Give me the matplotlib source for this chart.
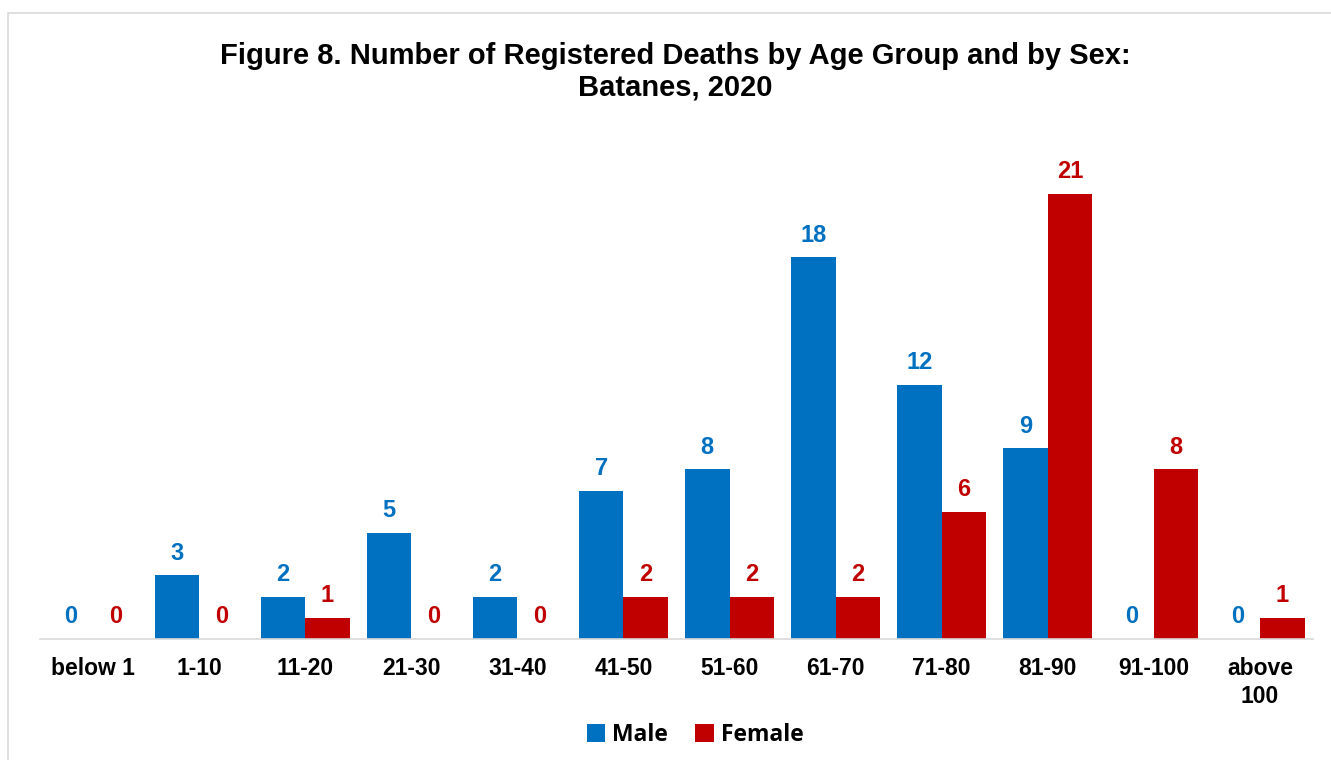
import numpy as np
import matplotlib.pyplot as plt
from matplotlib.patches import Rectangle

plt.rcParams['font.family'] = ['Liberation Sans', 'DejaVu Sans']

# Data
age_groups = ["below 1", "1-10", "11-20", "21-30", "31-40", "41-50",
              "51-60", "61-70", "71-80", "81-90", "91-100", "above\n100"]
male = [0, 3, 2, 5, 2, 7, 8, 18, 12, 9, 0, 0]
female = [0, 0, 1, 0, 0, 2, 2, 2, 6, 21, 8, 1]

blue = "#0070C0"
red = "#C00000"

fig = plt.figure(figsize=(13.31, 7.6), dpi=100)
ax = fig.add_axes([40 / 1331, 1 - 639 / 760, (1313 - 40) / 1331, (639 - 130) / 760])

# chart border
fig.patches.append(Rectangle((8 / 1331, -0.01), 1.0, 1 - 13 / 760 + 0.01,
                             transform=fig.transFigure, fill=False,
                             edgecolor="#D9D9D9", linewidth=1.2))

x = np.arange(len(age_groups))
w = 0.42
b1 = ax.bar(x - w / 2, male, w, color=blue, label="Male")
b2 = ax.bar(x + w / 2, female, w, color=red, label="Female")

for rect, v in zip(b1, male):
    ax.text(rect.get_x() + rect.get_width() / 2, v + 0.5, str(v),
            ha="center", va="bottom", color=blue, fontsize=17, fontweight="bold")
for rect, v in zip(b2, female):
    ax.text(rect.get_x() + rect.get_width() / 2, v + 0.5, str(v),
            ha="center", va="bottom", color=red, fontsize=17, fontweight="bold")

ax.set_xlim(-0.5, len(age_groups) - 0.5)
ax.set_ylim(0, 24)
ax.set_yticks([])
ax.set_xticks(x)
ax.set_xticklabels(age_groups, fontsize=16.5, fontweight="bold", linespacing=1.25)
ax.tick_params(axis="x", length=0, pad=13)
for s in ["top", "right", "left"]:
    ax.spines[s].set_visible(False)
ax.spines["bottom"].set_color("#D9D9D9")
ax.spines["bottom"].set_linewidth(1.2)

fig.text(675 / 1331, 1 - 72 / 760, "Figure 8. Number of Registered Deaths by Age Group and by Sex:\nBatanes, 2020",
         ha="center", va="center", fontsize=21, fontweight="bold", linespacing=1.15)

leg = fig.legend(handles=[b1, b2], loc="center", bbox_to_anchor=(695 / 1331, 1 - 735 / 760),
                 ncol=2, frameon=False, handlelength=0.8, handleheight=0.8,
                 handletextpad=0.3, columnspacing=1.2,
                 prop={"family": "Open Sans", "weight": "bold", "size": 16.5})

fig.savefig("out.png", dpi=100)
